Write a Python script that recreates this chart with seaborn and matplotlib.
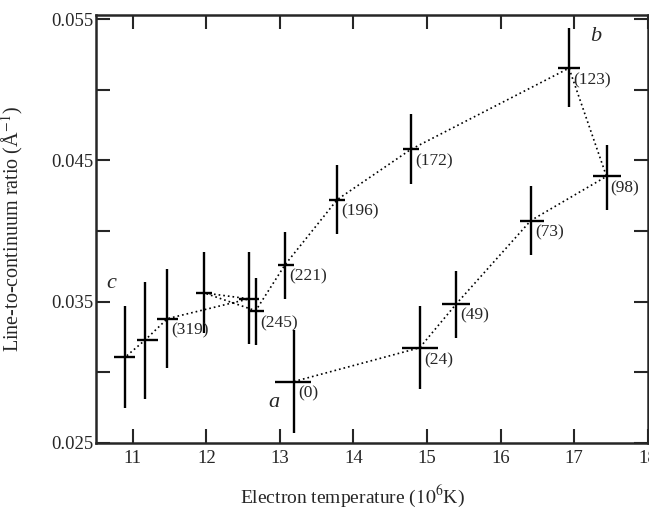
import numpy as np
import pandas as pd
import matplotlib
matplotlib.use('Agg')
import matplotlib.pyplot as plt
import seaborn as sns

# Dữ liệu (theo thứ tự thời gian)
nhan = ['(0)', '(24)', '(49)', '(73)', '(98)', '(123)', '(172)', '(196)', '(221)',
        '(245)', '', '', '(319)', '', '']
nhiet_do = [13.19, 14.90, 15.40, 16.41, 17.44, 16.93, 14.78, 13.78, 13.07,
            12.67, 11.97, 12.58, 11.47, 11.17, 10.89]
ti_so = [0.02935, 0.03174, 0.03486, 0.04074, 0.04387, 0.05153, 0.04578, 0.04223, 0.03762,
         0.03436, 0.03562, 0.0352, 0.0338, 0.0323, 0.03105]
x_thap = [12.93, 14.66, 15.21, 16.26, 17.26, 16.78, 14.67, 13.67, 12.97,
          12.56, 11.86, 12.44, 11.33, 11.05, 10.74]
x_cao = [13.42, 15.15, 15.59, 16.59, 17.64, 17.08, 14.89, 13.88, 13.19,
         12.78, 12.08, 12.71, 11.62, 11.34, 11.03]
y_thap = [0.0257, 0.0288, 0.0324, 0.0383, 0.0415, 0.0488, 0.0433, 0.0398, 0.0352,
          0.0319, 0.0328, 0.0320, 0.0303, 0.0281, 0.0275]
y_cao = [0.0330, 0.0347, 0.0372, 0.0432, 0.0461, 0.0544, 0.0483, 0.0447, 0.0399,
         0.0367, 0.0385, 0.0385, 0.0373, 0.0364, 0.0347]

# chữ a, b, c
chu = ['a', 'b', 'c']
chu_x = [12.92, 17.29, 10.71]
chu_y = [0.0279, 0.0538, 0.0363]

df = pd.DataFrame({'x': nhiet_do, 'y': ti_so, 'nhan': nhan,
                   'xlo': x_thap, 'xhi': x_cao, 'ylo': y_thap, 'yhi': y_cao})

sns.set_style('ticks')
plt.rcParams['font.family'] = ['Liberation Serif', 'DejaVu Serif']
plt.rcParams['mathtext.fontset'] = 'stix'

fig = plt.figure(figsize=(6.49, 5.13), dpi=100)
ax = fig.add_axes([0.148, 0.1365, 0.85, 0.8345])

# đường chấm nối các điểm
sns.lineplot(data=df, x='x', y='y', sort=False, ax=ax, color='black',
             linewidth=1.2, linestyle=(0, (1, 1.8)), estimator=None)

# thanh sai số
ax.errorbar(df['x'], df['y'],
            xerr=[df['x'] - df['xlo'], df['xhi'] - df['x']],
            yerr=[df['y'] - df['ylo'], df['yhi'] - df['y']],
            fmt='none', ecolor='black', elinewidth=1.7, capsize=0)

for i, row in df.iterrows():
    if row['nhan']:
        ax.annotate(row['nhan'], (row['x'], row['y']), xytext=(3, -3),
                    textcoords='offset points', ha='left', va='top', fontsize=12.5)

for c, cx, cy in zip(chu, chu_x, chu_y):
    ax.text(cx, cy, c, fontsize=16, style='italic', ha='center', va='center')

ax.set_xlim(10.5, 18)
ax.set_ylim(0.025, 0.0553)
ax.set_xticks([11, 12, 13, 14, 15, 16, 17, 18])
ax.set_yticks([0.025, 0.035, 0.045, 0.055])
ax.set_yticklabels(['0.025', '0.035', '0.045', '0.055'])
ax.set_yticks([0.030, 0.040, 0.050], minor=True)
ax.tick_params(which='both', direction='in', top=True, right=True,
               length=10, width=1.5, labelsize=13.5, pad=2)
ax.tick_params(axis='x', pad=5)
for s in ax.spines.values():
    s.set_linewidth(1.8)

ax.set_xlabel('Electron temperature ($10^6$K)', fontsize=14)
ax.set_ylabel('Line-to-continuum ratio (Å$^{-1}$)', fontsize=14.5)
ax.xaxis.set_label_coords(0.464, -0.095)
ax.yaxis.set_label_coords(-0.128, 0.5)

fig.savefig('out.png', dpi=100)
